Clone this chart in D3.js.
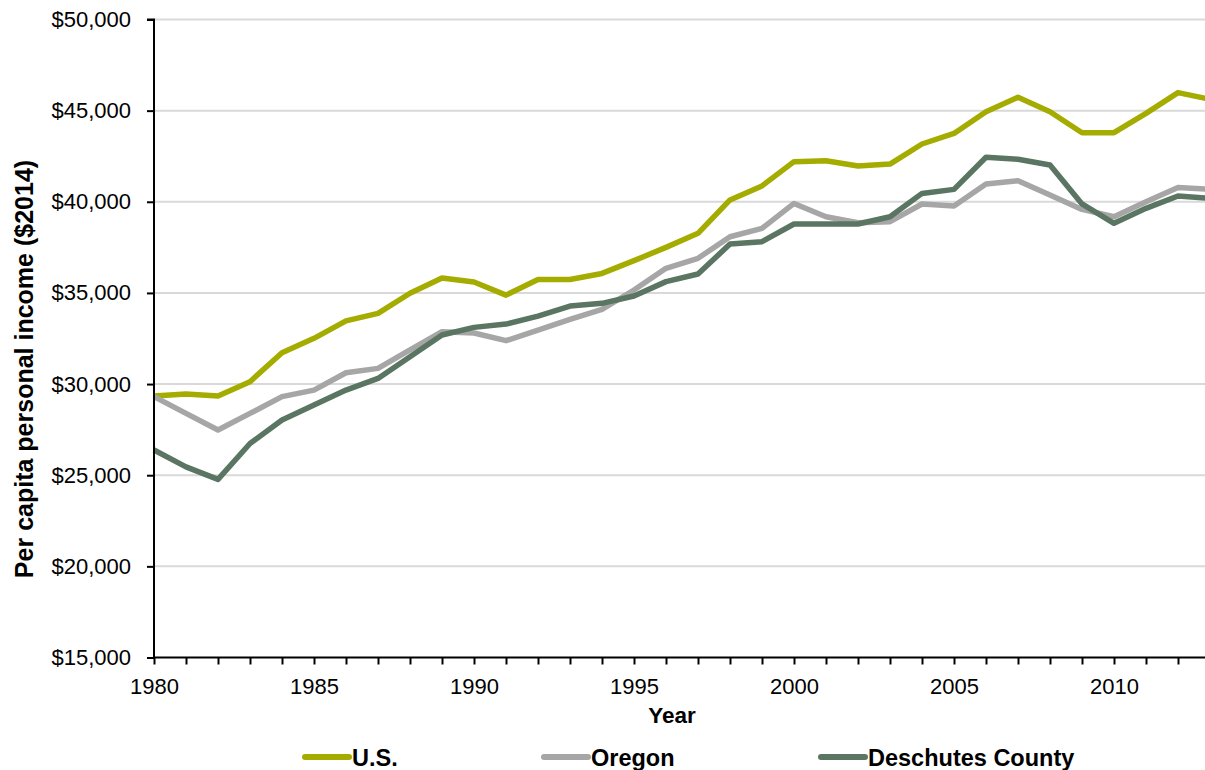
<!DOCTYPE html>
<html>
<head>
<meta charset="utf-8">
<script src="https://cdn.jsdelivr.net/npm/d3@7"></script>
<style>
  html, body { margin: 0; padding: 0; background: #fff; }
  svg { display: block; font-family: "Liberation Sans", Arial, sans-serif; }
</style>
</head>
<body>
<svg id="chart" width="1205" height="770"></svg>
<script>
const years = d3.range(1980, 2014);
const usValues = [29350, 29450, 29340, 30130, 31720, 32510, 33470, 33880, 34980, 35820,
                  35600, 34880, 35740, 35740, 36070, 36770, 37500, 38270, 40100, 40870,
                  42200, 42250, 41960, 42070, 43170, 43750, 44940, 45730, 44940, 43790,
                  43790, 44850, 45990, 45620];
const oregonValues = [29310, 28390, 27480, 28390, 29310, 29670, 30620, 30860, 31870, 32870,
                      32800, 32380, 32960, 33550, 34100, 35160, 36350, 36900, 38080, 38540,
                      39910, 39180, 38850, 38910, 39880, 39770, 40970, 41160, 40370, 39580,
                      39180, 40000, 40790, 40680];
const deschutesValues = [26380, 25460, 24770, 26740, 28030, 28850, 29670, 30310, 31500, 32690,
                         33110, 33290, 33730, 34280, 34430, 34830, 35620, 36040, 37680, 37810,
                         38780, 38780, 38780, 39180, 40460, 40680, 42440, 42330, 42020, 39880,
                         38820, 39640, 40320, 40190];
const seriesNames = ["U.S.", "Oregon", "Deschutes County"];
const seriesColors = ["#a5ac00", "#a6a6a6", "#5b7563"];
const yTicks = [15000, 20000, 25000, 30000, 35000, 40000, 45000, 50000];
const xTickLabels = [1980, 1985, 1990, 1995, 2000, 2005, 2010];

const series = [usValues, oregonValues, deschutesValues];

const svg = d3.select("#chart");
const x = d3.scaleLinear().domain([1980, 2013]).range([154, 1210]);
const y = d3.scaleLinear().domain([15000, 50000]).range([657.5, 19.5]);

// gridlines
svg.append("g")
  .selectAll("line")
  .data(yTicks.filter(d => d > 15000))
  .join("line")
  .attr("x1", x(1980)).attr("x2", x(2013))
  .attr("y1", d => y(d)).attr("y2", d => y(d))
  .attr("stroke", "#d9d9d9").attr("stroke-width", 2);

// lines
const line = d3.line().x((d, i) => x(years[i])).y(d => y(d));
svg.append("g")
  .selectAll("path")
  .data(series)
  .join("path")
  .attr("d", d => line(d))
  .attr("fill", "none")
  .attr("stroke", (d, i) => seriesColors[i])
  .attr("stroke-width", 5.5)
  .attr("stroke-linejoin", "round");

// y axis
const yAxis = d3.axisLeft(y)
  .tickValues(yTicks)
  .tickSize(7)
  .tickPadding(16)
  .tickFormat(d => "$" + d3.format(",")(d));
const yg = svg.append("g").attr("transform", `translate(${x(1980)},0)`).call(yAxis);
yg.select(".domain").attr("stroke", "#000").attr("stroke-width", 2).attr("d", `M-7,${y(50000)}H0V${y(15000)}`);
yg.selectAll(".tick line").attr("stroke", "#000").attr("stroke-width", 2);
yg.selectAll(".tick text").attr("font-size", 22).attr("fill", "#000")
  .attr("font-family", "Liberation Sans, Arial, sans-serif");

// x axis
const xAxis = d3.axisBottom(x)
  .tickValues(years)
  .tickSize(7)
  .tickPadding(14)
  .tickFormat(d => xTickLabels.includes(d) ? String(d) : "");
const xg = svg.append("g").attr("transform", `translate(0,${y(15000)})`).call(xAxis);
xg.select(".domain").attr("stroke", "#000").attr("stroke-width", 2).attr("d", `M${x(1980)},0H${x(2013)}`);
xg.selectAll(".tick line").attr("stroke", "#000").attr("stroke-width", 2);
xg.selectAll(".tick text").attr("font-size", 22).attr("fill", "#000")
  .attr("font-family", "Liberation Sans, Arial, sans-serif");

// axis titles
svg.append("text")
  .attr("x", 672).attr("y", 723)
  .attr("text-anchor", "middle")
  .attr("font-size", 22.5).attr("font-weight", "bold")
  .text("Year");

svg.append("text")
  .attr("transform", `translate(33,369) rotate(-90)`)
  .attr("text-anchor", "middle")
  .attr("font-size", 25).attr("font-weight", "bold")
  .text("Per capita personal income ($2014)");

// legend
const legendX = [305, 544, 821];
const lg = svg.append("g")
  .selectAll("g")
  .data(seriesNames)
  .join("g")
  .attr("transform", (d, i) => `translate(${legendX[i]},757)`);
lg.append("line")
  .attr("x1", 0).attr("x2", 44).attr("y1", 0).attr("y2", 0)
  .attr("stroke", (d, i) => seriesColors[i])
  .attr("stroke-width", 6)
  .attr("stroke-linecap", "round");
lg.append("text")
  .attr("x", 47).attr("y", 9)
  .attr("font-size", 23.5).attr("font-weight", "bold")
  .text(d => d);
</script>
</body>
</html>
